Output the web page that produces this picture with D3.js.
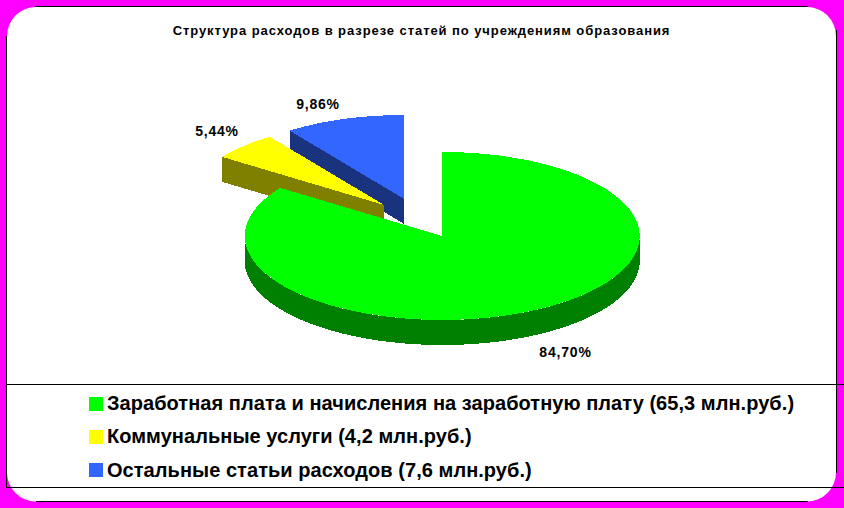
<!DOCTYPE html>
<html><head><meta charset="utf-8">
<script src="https://cdn.jsdelivr.net/npm/d3@7/dist/d3.min.js"></script>
<style>
html,body{margin:0;padding:0;background:#ff00ff;overflow:hidden}
svg{display:block}
text{font-family:"Liberation Sans",Arial,sans-serif;font-weight:bold;fill:#000}
</style></head><body><svg id="c" width="844" height="508"></svg>
<script>
const titleText = "Структура расходов в разрезе статей по учреждениям образования";
const categories = ["Заработная плата и начисления на заработную плату (65,3 млн.руб.)", "Коммунальные услуги (4,2 млн.руб.)", "Остальные статьи расходов (7,6 млн.руб.)"];
const shares = [84.70, 5.44, 9.86];
const shareLabels = ["84,70%", "5,44%", "9,86%"];
const topColors = ["#00ff00", "#ffff00", "#3366ff"];
const sideColors = ["#008000", "#808000", "#19337f"];

const W = 844, H = 508;
const svg = d3.select("#c");
const cx = 442.2, cy = 236, rx = 197.5, ry = 84, depth = 25;
const explode = [[0,0],[-58,-31],[-38,-37]];
const labelPos = [[565.5,357],[217,136],[318,109]];

// frame
svg.append("rect").attr("x",7).attr("y",7).attr("width",829).attr("height",494.5).attr("rx",29).attr("ry",29).attr("fill","#fff");
const lines = [[35,6.5,808,6.5],[6.5,36,6.5,487],[836.5,30,836.5,473],[36,501.5,808,501.5],[6,384.5,844,384.5],[6,487.5,844,487.5]];
svg.append("g").attr("stroke","#000").attr("stroke-width",1).attr("shape-rendering","crispEdges")
  .selectAll("line").data(lines).join("line")
  .attr("x1",d=>d[0]).attr("y1",d=>d[1]).attr("x2",d=>d[2]).attr("y2",d=>d[3]);

// title
svg.append("text").attr("x",421.5).attr("y",35).attr("text-anchor","middle").attr("font-size",13).attr("letter-spacing",0.92).text(titleText);

// pie
const arcs = d3.pie().sort(null).value(d=>d)(shares);
const arcGen = d3.arc().innerRadius(0).outerRadius(rx);
const pt = (a,r=1)=>[r*rx*Math.sin(a), -r*ry*Math.cos(a)];
const line = d3.line();
const order = [2,1,0];
const pie = svg.append("g").attr("shape-rendering","crispEdges");
order.forEach(i=>{
  const a = arcs[i];
  const g = pie.append("g").attr("transform",`translate(${cx+explode[i][0]},${cy+explode[i][1]})`);
  // radial wall on the start edge when it faces the viewer
  if (Math.sin(a.startAngle) < 0) {
    const p = pt(a.startAngle);
    g.append("path").attr("fill",sideColors[i])
      .attr("d",line([[0,0],p,[p[0],p[1]+depth],[0,depth]])+"Z");
  }
  // outer wall on the lower half of the rim
  const a0 = Math.max(a.startAngle,Math.PI/2), a1 = Math.min(a.endAngle,3*Math.PI/2);
  if (a1 > a0) {
    const rim = d3.range(a0,a1,0.01).concat([a1]).map(t=>pt(t));
    const low = rim.map(p=>[p[0],p[1]+depth]).reverse();
    g.append("path").attr("fill",sideColors[i]).attr("d",line(rim.concat(low))+"Z");
  }
  g.append("path").attr("fill",topColors[i])
    .attr("transform",`scale(1,${ry/rx})`).attr("d",arcGen(a));
});

// share labels
svg.append("g").selectAll("text").data(shareLabels).join("text")
  .attr("x",(d,i)=>labelPos[i][0]).attr("y",(d,i)=>labelPos[i][1])
  .attr("text-anchor","middle").attr("font-size",14).attr("letter-spacing",0.8).text(d=>d);

// legend
const ly = d3.scalePoint().domain(d3.range(categories.length)).range([403.5,470]);
const leg = svg.append("g").selectAll("g").data(categories).join("g")
  .attr("transform",(d,i)=>`translate(0,${ly(i)})`);
leg.append("rect").attr("x",89).attr("y",-7).attr("width",14).attr("height",14)
  .attr("fill",(d,i)=>topColors[i]).attr("shape-rendering","crispEdges");
leg.append("text").attr("x",107).attr("y",6.5).attr("font-size",20).attr("letter-spacing",0.05).text(d=>d);
</script></body></html>
